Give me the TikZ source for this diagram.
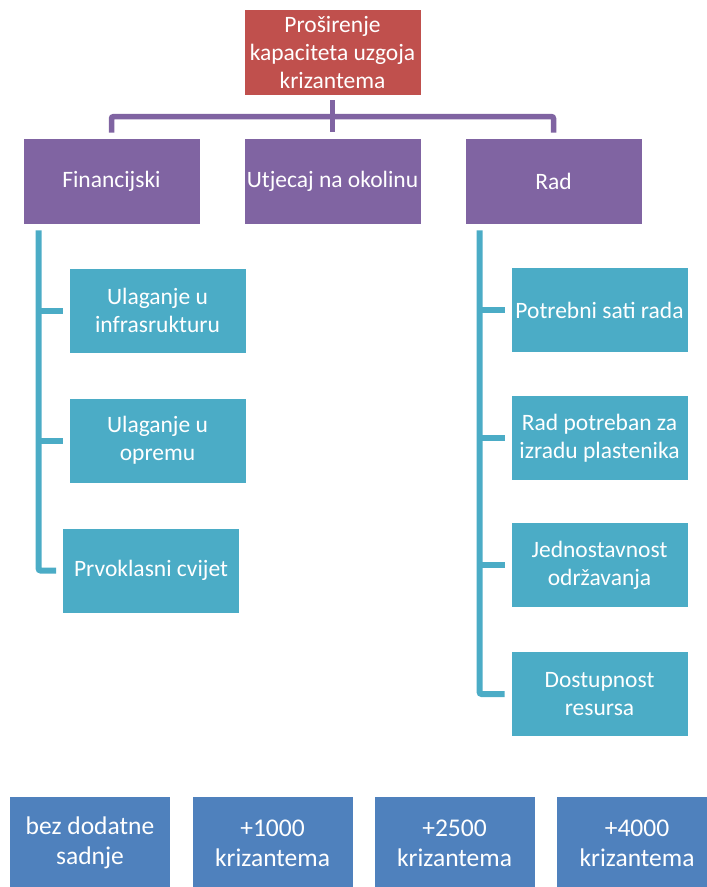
\documentclass[tikz,border=0pt]{standalone}
\usepackage{fontspec}
\setmainfont{Carlito}
\usetikzlibrary{calc}

\definecolor{rootred}{HTML}{C0504D}
\definecolor{grppurple}{HTML}{8064A2}
\definecolor{itemteal}{HTML}{4BACC6}
\definecolor{optblue}{HTML}{4F81BD}

\begin{document}
\begin{tikzpicture}[x=1pt,y=-1pt,
	box/.style={rectangle,draw=white,line width=0.8pt,text=white,align=center,
		minimum width=177pt,minimum height=86pt,inner sep=2pt,
		font=\fontsize{23.5}{28}\selectfont},
	rootbox/.style={box,fill=rootred},
	grpbox/.style={box,fill=grppurple},
	itembox/.style={box,fill=itemteal,minimum height=85pt},
	optbox/.style={box,fill=optblue,minimum width=161pt,minimum height=94pt,
		font=\fontsize{25.5}{30}\selectfont},
	grpline/.style={grppurple,line width=5.5pt,rounded corners=2pt},
	itemline/.style={itemteal,line width=6pt,rounded corners=2pt}]
	\path[use as bounding box,clip] (0,0) rectangle (707,887);
	
	\node[rootbox] (root) at (332.5,52) {Proširenje\\kapaciteta uzgoja\\krizantema};
	
	\node[grpbox] (fin) at (111.5,181) {Financijski};
	\node[grpbox] (utj) at (332.5,181) {Utjecaj na okolinu};
	\node[grpbox] (rad) at (553.5,181) {Rad};
	
	\draw[grpline] ([yshift=-5pt]root.south) -- ([yshift=6pt]utj.north);
	\draw[grpline] ([yshift=5pt]fin.north) -- ++(0,-16) -| ([yshift=5pt]rad.north);
	
	\node[itembox] (fin1) at (157.5,310.5) {Ulaganje u\\infrasrukturu};
	\node[itembox] (fin2) at (157.5,440.5) {Ulaganje u\\opremu};
	\node[itembox] (fin3) at (151,570.5) {Prvoklasni cvijet};
	
	\coordinate (fintop) at ([xshift=16pt,yshift=-6pt]fin.south west);
	\draw[itemline] (fintop) |- ([xshift=-6pt]fin3.west);
	\foreach \c in {fin1,fin2}
		\draw[itemline] (fintop |- \c.west) -- ([xshift=-6pt]\c.west);
	
	\node[itembox] (rad1) at (599.5,310) {Potrebni sati rada};
	\node[itembox] (rad2) at (599.5,438) {Rad potreban za\\izradu plastenika};
	\node[itembox] (rad3) at (599.5,565) {Jednostavnost\\održavanja};
	\node[itembox] (rad4) at (599.5,694) {Dostupnost\\resursa};
	
	\coordinate (radtop) at ([xshift=15pt,yshift=-6pt]rad.south west);
	\draw[itemline] (radtop) |- ([xshift=-6pt]rad4.west);
	\foreach \c in {rad1,rad2,rad3}
		\draw[itemline] (radtop |- \c.west) -- ([xshift=-6pt]\c.west);
	
	\node[optbox] (opt0) at (90,843) {bez dodatne\\sadnje};
	\node[optbox] (opt1) at (272.5,843) {+1000\\krizantema};
	\node[optbox] (opt2) at (454.5,843) {+2500\\krizantema};
	\node[optbox] (opt3) at (637,843) {+4000\\krizantema};
\end{tikzpicture}
\end{document}
